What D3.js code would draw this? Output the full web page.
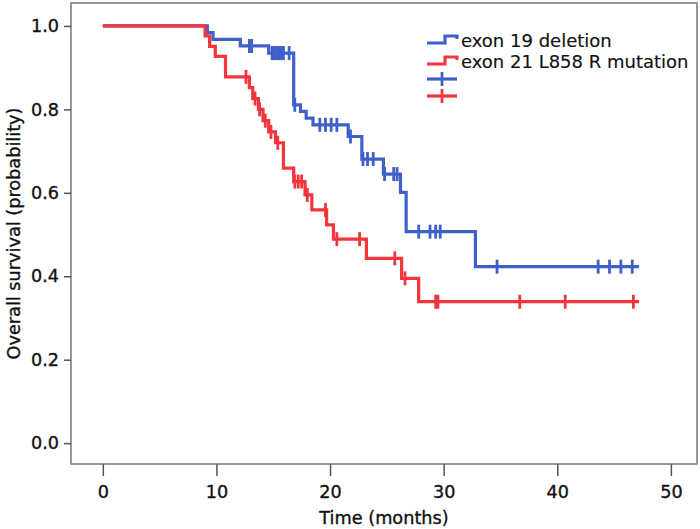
<!DOCTYPE html>
<html>
<head>
<meta charset="utf-8">
<script src="https://cdn.jsdelivr.net/npm/d3@7/dist/d3.min.js"></script>
<style>
  html, body { margin: 0; padding: 0; background: #fff; }
  svg { display: block; }
  text { font-family: "DejaVu Sans", sans-serif; fill: #111; stroke: #111; stroke-width: 0.35px; }
</style>
</head>
<body>
<svg id="chart" width="700" height="529"></svg>
<script>
// ---- data ----
const seriesNames = ["exon 19 deletion", "exon 21 L858 R mutation"];

const blueTimes    = [0, 9.2, 9.7, 12.1, 14.6, 16.8, 17.4, 17.9, 18.5, 21.6, 22.8, 24.7, 26.2, 26.7, 32.8];
const blueSurvival = [1.0, 0.984, 0.968, 0.952, 0.935, 0.811, 0.795, 0.779, 0.763, 0.735, 0.681, 0.645, 0.601, 0.507, 0.423];
const blueCensored = [12.9, 13.1, 14.9, 15.1, 15.3, 15.5, 15.7, 15.9, 16.4, 16.9, 19.1, 19.6, 20.1, 20.6, 21.8,
                      22.9, 23.3, 23.8, 24.8, 25.6, 25.9, 27.8, 28.8, 29.3, 29.7, 34.7, 43.6, 44.6, 45.6, 46.6];
const blueEnd = 47.2;

const redTimes    = [0, 9.0, 9.4, 9.9, 10.8, 12.9, 13.2, 13.7, 14.1, 14.6, 15.2, 15.9, 16.8, 17.8, 18.4, 19.7, 20.3, 23.2, 26.3, 27.8];
const redSurvival = [1.0, 0.976, 0.951, 0.927, 0.878, 0.852, 0.826, 0.800, 0.773, 0.746, 0.720, 0.659, 0.627, 0.595, 0.559, 0.523, 0.489, 0.443, 0.395, 0.339];
const redCensored = [12.6, 13.4, 13.8, 14.3, 14.8, 15.4, 16.9, 17.2, 17.5, 18.0, 19.6, 20.6, 22.6, 25.7, 26.6, 29.3, 29.5, 36.7, 40.7, 46.7];
const redEnd = 47.2;

const xTicks = [0, 10, 20, 30, 40, 50];
const yTicks = [0.0, 0.2, 0.4, 0.6, 0.8, 1.0];

const xTitle = "Time (months)";
const yTitle = "Overall survival (probability)";

// ---- layout ----
const colors = ["#3f60c9", "#f3353c"];
const frame = { left: 71, right: 697, top: 3, bottom: 464 };

const svg = d3.select("#chart");
const x = d3.scaleLinear().domain([-2.8, 52.3]).range([frame.left, frame.right]);
const y = d3.scaleLinear().domain([-0.05, 1.055]).range([frame.bottom, frame.top]);

// frame
svg.append("rect")
  .attr("x", frame.left).attr("y", frame.top)
  .attr("width", frame.right - frame.left).attr("height", frame.bottom - frame.top)
  .attr("fill", "none").attr("stroke", "#777").attr("stroke-width", 1.5);

// axes
const yAxis = d3.axisLeft(y).tickValues(yTicks).tickFormat(d3.format(".1f")).tickSize(7).tickPadding(5);
const gy = svg.append("g").attr("transform", `translate(${frame.left},0)`).call(yAxis);
gy.select(".domain").remove();
gy.selectAll("line").attr("stroke", "#555").attr("stroke-width", 1.5);
gy.selectAll("text").style("font-size", "17.6px").style("font-family", "DejaVu Sans").attr("fill", "#111");

const xAxis = d3.axisBottom(x).tickValues(xTicks).tickFormat(d3.format("d")).tickSize(12).tickPadding(10);
const gx = svg.append("g").attr("transform", `translate(0,${frame.bottom})`).call(xAxis);
gx.select(".domain").remove();
gx.selectAll("line").attr("stroke", "#555").attr("stroke-width", 1.5);
gx.selectAll("text").style("font-size", "17.6px").style("font-family", "DejaVu Sans").attr("fill", "#111");

// titles
svg.append("text")
  .attr("x", (frame.left + frame.right) / 2).attr("y", 524)
  .attr("text-anchor", "middle").style("font-size", "17.7px")
  .text(xTitle);
svg.append("text")
  .attr("transform", `translate(20,${(frame.top + frame.bottom) / 2}) rotate(-90)`)
  .attr("text-anchor", "middle").style("font-size", "17.7px")
  .text(yTitle);

// KM curves
function survAt(times, surv, t) {
  let s = surv[0];
  for (let i = 0; i < times.length; i++) if (times[i] <= t) s = surv[i];
  return s;
}

function drawSeries(times, surv, censored, tEnd, color) {
  const pts = times.map((t, i) => [t, surv[i]]);
  pts.push([tEnd, surv[surv.length - 1]]);
  const line = d3.line().x(d => x(d[0])).y(d => y(d[1])).curve(d3.curveStepAfter);
  svg.append("path").datum(pts)
    .attr("d", line).attr("fill", "none").attr("stroke", color)
    .attr("stroke-width", 3.2).attr("stroke-linejoin", "miter");
  svg.append("g").selectAll("line").data(censored).join("line")
    .attr("x1", d => x(d)).attr("x2", d => x(d))
    .attr("y1", d => y(survAt(times, surv, d)) - 7)
    .attr("y2", d => y(survAt(times, surv, d)) + 7)
    .attr("stroke", color).attr("stroke-width", 2.8);
}

drawSeries(blueTimes, blueSurvival, blueCensored, blueEnd, colors[0]);
drawSeries(redTimes, redSurvival, redCensored, redEnd, colors[1]);

// legend
const lg = svg.append("g");
const lx = 427, lRows = [43, 64];
seriesNames.forEach((name, i) => {
  const yb = lRows[i];
  lg.append("path")
    .attr("d", `M${lx},${yb} H${lx + 18} V${yb - 7} H${lx + 30} V${yb - 4}`)
    .attr("fill", "none").attr("stroke", colors[i]).attr("stroke-width", 3.2);
  lg.append("text").attr("x", lx + 34).attr("y", yb + 4)
    .style("font-size", "18px").style("stroke-width", "0.15px").text(name);
});
[79, 96].forEach((yc, i) => {
  lg.append("line").attr("x1", lx).attr("x2", lx + 30).attr("y1", yc).attr("y2", yc)
    .attr("stroke", colors[i]).attr("stroke-width", 3.2);
  lg.append("line").attr("x1", lx + 15).attr("x2", lx + 15).attr("y1", yc - 7).attr("y2", yc + 7)
    .attr("stroke", colors[i]).attr("stroke-width", 2.8);
});
</script>
</body>
</html>
